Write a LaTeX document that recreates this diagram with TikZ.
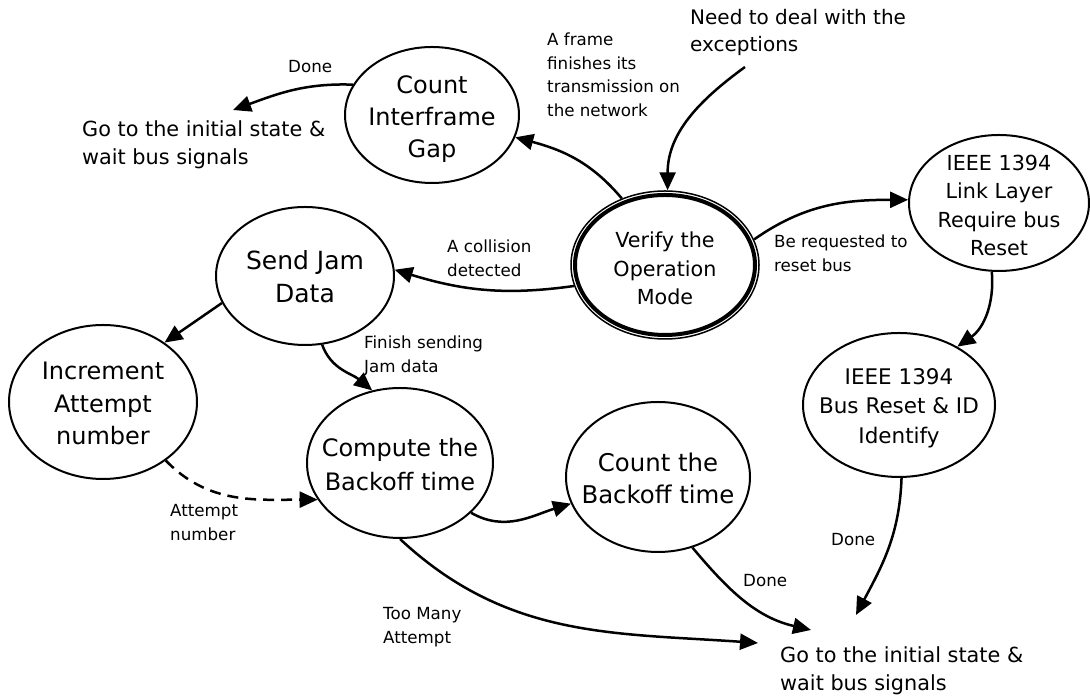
\documentclass[tikz,border=0pt]{standalone}
\usepackage{fontspec}
\setmainfont{DejaVu Sans}
\usetikzlibrary{shapes.geometric,arrows.meta}
\newcommand{\lines}[1]{\begin{tabular}[t]{@{}l@{}}#1\end{tabular}}
\begin{document}
\begin{tikzpicture}[x=1pt,y=1pt,
  st/.style={ellipse, draw, line width=2pt, inner sep=0pt},
  bigtxt/.style={font=\fontsize{24}{32}\selectfont, align=center},
  midtxt/.style={font=\fontsize{20.7}{28.5}\selectfont, align=center},
  lab/.style={font=\fontsize{16.7}{23.5}\selectfont, inner sep=0pt, anchor=base west},
  goaltxt/.style={font=\fontsize{20.8}{28}\selectfont, inner sep=0pt, anchor=base west},
  arr/.style={-{Triangle[length=18pt,width=16pt]}, line width=2.5pt},
  dashline/.style={dash pattern=on 11pt off 7pt}]
\useasboundingbox (0,0) rectangle (1090,700);

% states
\node[st, minimum width=174pt, minimum height=136pt,
  label={[bigtxt, yshift=-4pt]center:Count\\Interframe\\Gap}] (cig) at (432,585) {};
\node[ellipse, draw, line width=1.5pt, inner sep=0pt, minimum width=188pt, minimum height=148pt,
  label={[midtxt, yshift=-3.7pt]center:Verify the\\Operation\\Mode}] (verify) at (665,435) {};
\draw[line width=4pt] (verify.center) ellipse [x radius=90, y radius=70];
\node[st, minimum width=180pt, minimum height=136pt,
  label={[font=\fontsize{20.7}{28.6}\selectfont, align=center, yshift=-2.5pt]center:IEEE 1394\\Link Layer\\Require bus\\Reset}] (link) at (999,497) {};
\node[st, minimum width=192pt, minimum height=144pt,
  label={[font=\fontsize{21.5}{29.5}\selectfont, align=center, yshift=-3pt]center:IEEE 1394\\Bus Reset \& ID\\Identify}] (busreset) at (899,295) {};
\node[st, minimum width=184pt, minimum height=150pt,
  label={[font=\fontsize{24.4}{32}\selectfont, align=center, yshift=-1pt]center:Count the\\Backoff time}] (cbt) at (658,223) {};
\node[st, minimum width=186pt, minimum height=150pt,
  label={[font=\fontsize{24}{34}\selectfont, align=center, yshift=-2pt]center:Compute the\\Backoff time}] (cobt) at (400,237) {};
\node[st, minimum width=178pt, minimum height=138pt,
  label={[font=\fontsize{25}{33}\selectfont, align=center, yshift=-1pt]center:Send Jam\\Data}] (sjd) at (305,424) {};
\node[st, minimum width=188pt, minimum height=154pt,
  label={[font=\fontsize{24}{32.5}\selectfont, align=center, yshift=-1.7pt]center:Increment\\Attempt\\number}] (ian) at (103,298) {};

% free texts
\node[goaltxt] (goal1) at (82,563) {\lines{Go to the initial state \&\\wait bus signals}};
\node[goaltxt] (goal2) at (780,37) {\lines{Go to the initial state \&\\wait bus signals}};
\node[font=\fontsize{20}{27}\selectfont, inner sep=0pt, anchor=base west] (need) at (690,675) {\lines{Need to deal with the\\exceptions}};

% connector labels
\node[lab] (done1) at (288,627) {Done};
\node[lab] (frame) at (547,654) {\lines{A frame\\finishes its\\transmission on\\the network}};
\node[lab] (coll) at (447,447) {\lines{A collision\\detected}};
\node[lab] (req) at (774,452) {\lines{Be requested to\\reset bus}};
\node[lab] (finish) at (364,351) {\lines{Finish sending\\Jam data}};
\node[lab] (attn) at (170,183) {\lines{Attempt\\number}};
\node[lab] (many) at (383,80) {\lines{Too Many\\Attempt}};
\node[lab] (done2) at (743,113) {Done};
\node[lab] (done3) at (831,154) {Done};

% free ends
\coordinate (g1tip) at (233,590);
\coordinate (needout) at (745,633);
\coordinate (g2a) at (758,57);
\coordinate (g2b) at (811,70);
\coordinate (g2c) at (856,85);

% connectors
\draw[arr] (cig.159) to[out=178,in=20] (g1tip);
\draw[arr] (verify.123) to[out=130,in=-15] (cig.-15);
\draw[arr] (needout) to[out=216,in=90] (verify.88);
\draw[arr] (verify.16) to[out=35,in=180] (link.178);
\draw[arr] (link.-96) to[out=-85,in=35] (busreset.45);
\draw[arr] (verify.193) to[out=188,in=-17] (sjd.4);
\draw[arr] (sjd.198) -- (ian.44);
\draw[arr] (sjd.-76) to[out=-70,in=140] (cobt.111);
\draw[arr, dashline] (ian.-43) to[out=-46,in=180] (cobt.204);
\draw[arr] (cobt.-35) to[out=-30,in=197] (cbt.197);
\draw[arr] (cobt.-90) to[out=-43,in=176] (g2a);
\draw[arr] (cbt.-64) to[out=-50,in=167] (g2b);
\draw[arr] (busreset.-88) to[out=-92,in=62] (g2c);
\end{tikzpicture}
\end{document}
